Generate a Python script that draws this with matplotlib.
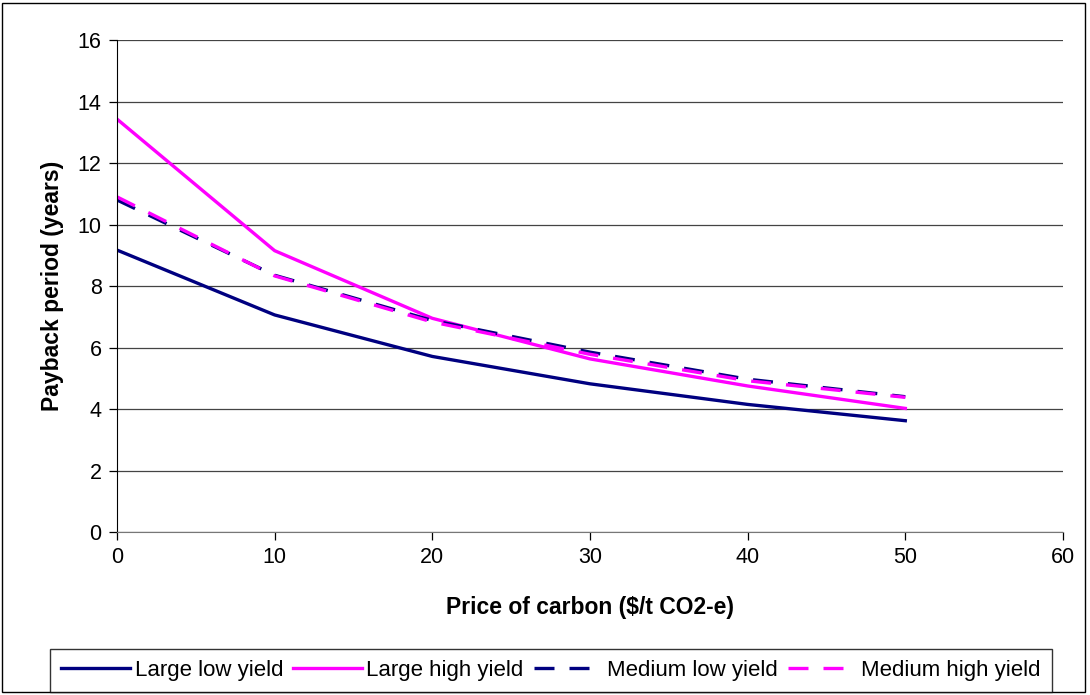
import matplotlib.pyplot as plt
from matplotlib.patches import Rectangle

plt.rcParams["font.family"] = ["Liberation Sans", "DejaVu Sans"]

carbon_price = [0, 10, 20, 30, 40, 50]
large_low = [9.17, 7.06, 5.71, 4.82, 4.15, 3.62]
large_high = [13.43, 9.15, 6.95, 5.63, 4.75, 4.02]
medium_low = [10.8, 8.35, 6.88, 5.85, 4.97, 4.40]
medium_high = [10.9, 8.33, 6.83, 5.78, 4.92, 4.38]

navy = "#000080"
magenta = "#FF00FF"

fig = plt.figure(figsize=(10.9, 6.95), dpi=100)
ax = fig.add_axes([0.1073, 0.2345, 0.8679, 0.7079])

lw = 2.4
dash = (6, 4.5)
ax.plot(carbon_price, large_low, color=navy, lw=lw, label="Large low yield")
ax.plot(carbon_price, large_high, color=magenta, lw=lw, label="Large high yield")
ax.plot(carbon_price, medium_low, color=navy, lw=lw, dashes=dash,
        label="Medium low yield")
ax.plot(carbon_price, medium_high, color=magenta, lw=lw, dashes=dash,
        label="Medium high yield")

ax.set_xlim(0, 60)
ax.set_ylim(0, 16)
ax.set_xticks(range(0, 61, 10))
ax.set_yticks(range(0, 17, 2))
ax.grid(axis="y", color="#444444", lw=0.9)
ax.set_axisbelow(True)
for s in ["top", "right"]:
    ax.spines[s].set_visible(False)
ax.spines["left"].set_color("black")
ax.spines["bottom"].set_color("#777777")
ax.tick_params(direction="out", length=6, width=0.9, labelsize=15.5, pad=5)

ax.set_xlabel("Price of carbon ($/t CO2-e)", fontsize=16.5, fontweight="bold",
              labelpad=20)
ax.set_ylabel("Payback period (years)", fontsize=16.5, fontweight="bold",
              labelpad=10)

leg = fig.legend(loc="center", bbox_to_anchor=(0.5055, 0.0353), ncol=4,
                 fontsize=16, frameon=True, fancybox=False, edgecolor="black",
                 handlelength=3.1, handletextpad=0.2, columnspacing=0.45,
                 borderpad=0.5)
leg.get_frame().set_linewidth(1.0)

fig.patches.append(Rectangle((0.002, 0.004), 0.993, 0.992, transform=fig.transFigure,
                             fill=False, edgecolor="black", lw=1.0))

fig.savefig("out.png", dpi=100)
